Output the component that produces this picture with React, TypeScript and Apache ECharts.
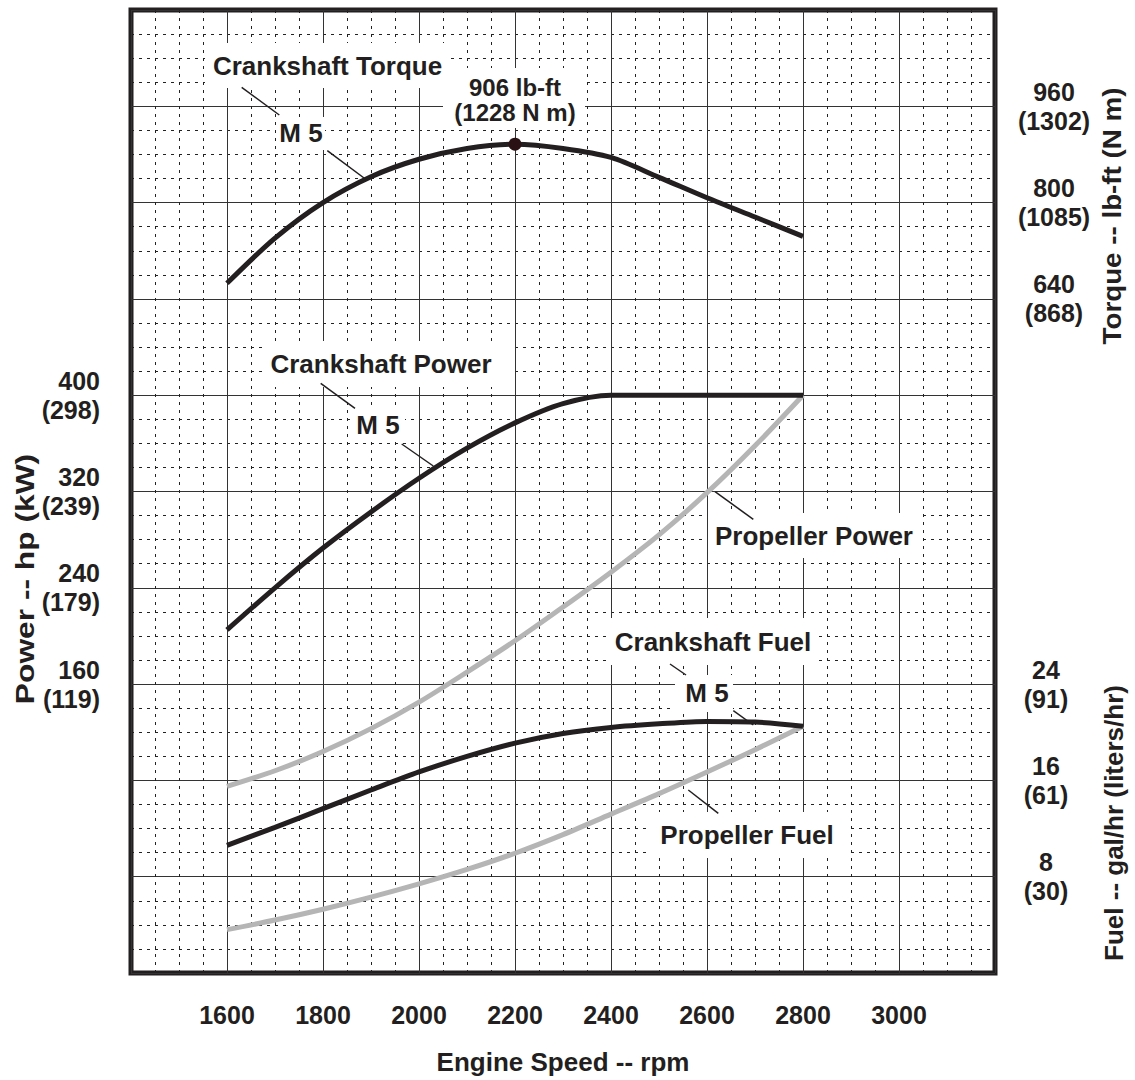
import React, { useEffect, useRef } from 'react';
import * as echarts from 'echarts';

// ---- data ----
const rpm = [1600, 1700, 1800, 1900, 2000, 2100, 2200, 2300, 2400, 2500, 2600, 2700, 2800];
const crankshaftTorque = [666, 741, 800, 843, 872, 890, 897, 890, 875, 842, 808, 776, 744];
const crankshaftPower = [205, 240, 273, 303, 331, 356, 377, 393, 400, 400, 400, 400, 400];
const propellerPower = [75, 88, 104, 123, 145, 170, 196, 224, 253, 284, 319, 358, 400];
const crankshaftFuel = [10.6, 12.1, 13.65, 15.2, 16.7, 18.0, 19.1, 19.9, 20.4, 20.7, 20.9, 20.85, 20.5];
const propellerFuel = [3.6, 4.4, 5.3, 6.3, 7.4, 8.6, 9.95, 11.5, 13.2, 14.9, 16.7, 18.55, 20.5];
const peakRpm = 2200;

const xTickLabels = [1600, 1800, 2000, 2200, 2400, 2600, 2800, 3000];
const torqueTicks = [640, 800, 960];
const torqueTicksNm = [868, 1085, 1302];
const powerTicks = [160, 240, 320, 400];
const powerTicksKw = [119, 179, 239, 298];
const fuelTicks = [8, 16, 24];
const fuelTicksL = [30, 61, 91];

const FONT = '"Liberation Sans", Arial, Helvetica, sans-serif';
const INK = '#231f20';
const GRAY = '#b5b5b5';

function pairs(ys: number[]) {
  return rpm.map((r, i) => [r, ys[i]]);
}

function dual(ticks: number[], alt: number[]) {
  return (v: number) => {
    const i = ticks.indexOf(Math.round(v));
    return i < 0 ? '' : `${ticks[i]}\n(${alt[i]})`;
  };
}

type Box = { lines: string[]; cx: number; cy: number; x0: number; y0: number; x1: number; y1: number; size?: number };
const boxes: Box[] = [
  { lines: ['Crankshaft Torque'], cx: 327.5, cy: 66, x0: 205, y0: 43, x1: 450, y1: 88 },
  { lines: ['M 5'], cx: 301, cy: 133, x0: 276, y0: 117, x1: 325, y1: 150 },
  { lines: ['906 lb-ft', '(1228 N m)'], cx: 515, cy: 87, x0: 443, y0: 68, x1: 585, y1: 128, size: 24 },
  { lines: ['Crankshaft Power'], cx: 381, cy: 364, x0: 263, y0: 341, x1: 512, y1: 387 },
  { lines: ['M 5'], cx: 378, cy: 425, x0: 352, y0: 408, x1: 405, y1: 441 },
  { lines: ['Propeller Power'], cx: 814, cy: 536, x0: 708, y0: 513, x1: 920, y1: 558 },
  { lines: ['Crankshaft Fuel'], cx: 713, cy: 642, x0: 610, y0: 618, x1: 818, y1: 665 },
  { lines: ['M 5'], cx: 707, cy: 693, x0: 675, y0: 675, x1: 733, y1: 712 },
  { lines: ['Propeller Fuel'], cx: 747, cy: 835, x0: 650, y0: 812, x1: 850, y1: 858 },
];
const leaders = [
  [241.7, 87.3, 279.3, 115],
  [327.3, 150.7, 366.7, 180],
  [320.7, 383.3, 355, 408.3],
  [401.7, 444, 433.3, 466],
  [715, 491.7, 753.3, 519.3],
  [670, 664, 686, 675],
  [733.3, 710.7, 753.3, 725],
  [688.3, 790, 718.3, 813.3],
];
const axisTitles = [
  { text: 'Power -- hp (kW)', x: 25, y: 579, stretch: 1.27 },
  { text: 'Torque -- lb-ft (N m)', x: 1112, y: 216, stretch: 1.11 },
  { text: 'Fuel -- gal/hr (liters/hr)', x: 1114, y: 823, stretch: 1.04 },
];

export default function App() {
  const ref = useRef<HTMLDivElement>(null);
  useEffect(() => {
    if (!ref.current) return;
    const chart = echarts.init(ref.current, undefined, { renderer: 'svg' });
    const labelStyle = { fontFamily: FONT, fontWeight: 'bold' as const, fontSize: 25, color: INK };
    const graphics: any[] = [];
    boxes.forEach((b) => {
      graphics.push({
        type: 'rect',
        z: 10,
        shape: { x: b.x0, y: b.y0, width: b.x1 - b.x0, height: b.y1 - b.y0 },
        style: { fill: '#ffffff' },
      });
      b.lines.forEach((line, k) => {
        graphics.push({
          type: 'text',
          z: 11,
          x: b.cx,
          y: b.cy + k * 25,
          style: {
            text: line,
            align: 'center',
            verticalAlign: 'middle',
            font: `bold ${b.size || 26}px ${FONT}`,
            fill: INK,
          },
        });
      });
    });
    leaders.forEach((l) => {
      graphics.push({
        type: 'line',
        z: 11,
        shape: { x1: l[0], y1: l[1], x2: l[2], y2: l[3] },
        style: { stroke: INK, lineWidth: 1.5 },
      });
    });
    axisTitles.forEach((t) => {
      graphics.push({
        type: 'text',
        z: 11,
        x: t.x,
        y: t.y,
        rotation: Math.PI / 2,
        scaleX: t.stretch,
        style: {
          text: t.text,
          align: 'center',
          verticalAlign: 'middle',
          font: `bold 25px ${FONT}`,
          fill: INK,
        },
      });
    });

    const lineSeries = (name: string, data: number[], yi: number, color: string, z: number) => ({
      name,
      type: 'line',
      yAxisIndex: yi,
      data: pairs(data),
      smooth: 0.3,
      showSymbol: false,
      symbol: 'none',
      z,
      lineStyle: { color, width: 5 },
    });

    const torque: any = lineSeries('Crankshaft Torque', crankshaftTorque, 1, INK, 4);
    torque.markPoint = {
      symbol: 'circle',
      symbolSize: 13,
      itemStyle: { color: '#2a1214' },
      label: { show: false },
      data: [{ coord: [peakRpm, crankshaftTorque[rpm.indexOf(peakRpm)]] }],
    };

    chart.setOption({
      animation: false,
      backgroundColor: '#ffffff',
      grid: {
        left: 131,
        top: 10,
        width: 864,
        height: 968,
        show: true,
        borderColor: INK,
        borderWidth: 5,
        backgroundColor: 'transparent',
      },
      xAxis: {
        type: 'value',
        min: 1400,
        max: 3200,
        interval: 200,
        name: 'Engine Speed -- rpm',
        nameLocation: 'middle',
        nameGap: 76,
        nameTextStyle: { fontFamily: FONT, fontWeight: 'bold', fontSize: 26, color: INK },
        axisLine: { show: false },
        axisTick: { show: false },
        axisLabel: {
          ...labelStyle,
          margin: 29,
          formatter: (v: number) => (xTickLabels.indexOf(v) >= 0 ? String(v) : ''),
        },
        splitLine: { show: true, lineStyle: { color: '#333333', width: 1 } },
        minorTick: { show: false, splitNumber: 4 },
        minorSplitLine: { show: true, lineStyle: { color: '#222222', width: 1, type: [3, 5] } },
      },
      yAxis: [
        {
          type: 'value',
          position: 'left',
          min: -80,
          max: 720,
          interval: 80,
          axisLine: { show: false },
          axisTick: { show: false },
          splitLine: { show: false },
          axisLabel: { ...labelStyle, lineHeight: 29, margin: 31, formatter: dual(powerTicks, powerTicksKw) },
        },
        {
          type: 'value',
          position: 'right',
          min: -480,
          max: 1120,
          interval: 160,
          axisLine: { show: false },
          axisTick: { show: false },
          splitLine: { show: false },
          axisLabel: {
            ...labelStyle,
            lineHeight: 29,
            align: 'center',
            margin: 59,
            formatter: dual(torqueTicks, torqueTicksNm),
          },
        },
        {
          type: 'value',
          position: 'right',
          min: 0,
          max: 80,
          interval: 8,
          axisLine: { show: false },
          axisTick: { show: false },
          axisLabel: {
            ...labelStyle,
            lineHeight: 29,
            align: 'center',
            margin: 51,
            formatter: dual(fuelTicks, fuelTicksL),
          },
          splitLine: { show: true, lineStyle: { color: '#333333', width: 1 } },
          minorTick: { show: false, splitNumber: 4 },
          minorSplitLine: { show: true, lineStyle: { color: '#222222', width: 1, type: [3, 5] } },
        },
      ],
      series: [
        lineSeries('Propeller Power', propellerPower, 0, GRAY, 2),
        lineSeries('Propeller Fuel', propellerFuel, 2, GRAY, 2),
        lineSeries('Crankshaft Power', crankshaftPower, 0, INK, 3),
        lineSeries('Crankshaft Fuel', crankshaftFuel, 2, INK, 3),
        torque,
      ],
      graphic: graphics,
    });
    return () => chart.dispose();
  }, []);
  return (
    <div
      ref={ref}
      style={{ position: 'absolute', left: 0, top: 0, width: 1135, height: 1080, background: '#fff' }}
    />
  );
}
